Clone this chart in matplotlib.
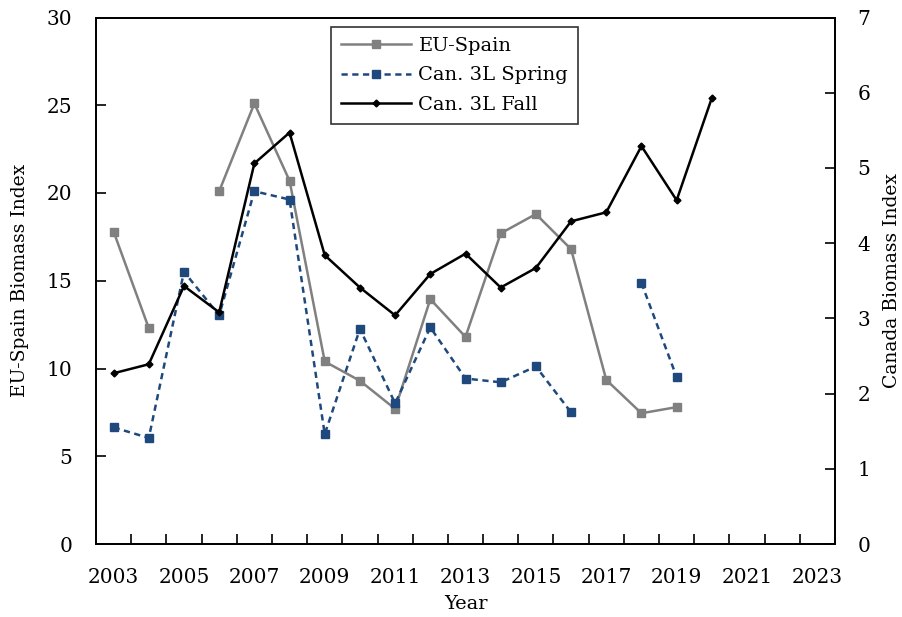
import numpy as np
import matplotlib.pyplot as plt
from matplotlib.ticker import MultipleLocator, FixedLocator

plt.rcParams['font.family'] = ['DejaVu Serif']
plt.rcParams['font.size'] = 14.5

years = np.arange(2003, 2024)
# EU-Spain survey index (left axis), NaN = no survey
eu_spain = [17.8, 12.3, np.nan, 20.1, 25.1, 20.7, 10.4, 9.3, 7.7, 13.95, 11.8,
            17.7, 18.8, 16.8, 9.35, 7.45, 7.8, np.nan, np.nan, np.nan, np.nan]
# Canadian 3L indices (right axis)
can_spring = [1.55, 1.41, 3.62, 3.04, 4.69, 4.58, 1.46, 2.86, 1.87, 2.88, 2.20,
              2.15, 2.36, 1.75, np.nan, 3.47, 2.22, np.nan, np.nan, np.nan, np.nan]
can_fall = [2.27, 2.39, 3.43, 3.08, 5.06, 5.47, 3.84, 3.41, 3.04, 3.59, 3.86,
            3.41, 3.67, 4.29, 4.41, 5.29, 4.57, 5.93, np.nan, np.nan, np.nan]

fig = plt.figure(figsize=(9.03, 6.17), dpi=100)
ax = fig.add_axes([96/903, 1-544/617, (835-96)/903, (544-17.5)/617])
ax2 = ax.twinx()

l1, = ax.plot(years, eu_spain, color='#808080', lw=1.8, marker='s', ms=5.5,
              label='EU-Spain')
l2, = ax2.plot(years, can_spring, color='#1f497d', lw=1.8, ls=(0, (2.5, 1.8)),
               marker='s', ms=5.5, label='Can. 3L Spring')
l3, = ax2.plot(years, can_fall, color='black', lw=1.8, marker='D', ms=3.5,
               label='Can. 3L Fall')

ax.set_xlim(2002.5, 2023.5)
ax.set_ylim(0, 30)
ax2.set_ylim(0, 7)
ax.yaxis.set_major_locator(MultipleLocator(5))
ax2.yaxis.set_major_locator(MultipleLocator(1))

# category axis: labels on every second year, tick marks between years
ax.set_xticks(years[::2])
ax.xaxis.set_minor_locator(FixedLocator(np.arange(2003.5, 2023, 1)))
ax.tick_params(axis='x', which='major', length=0, pad=17)
ax.tick_params(axis='x', which='minor', direction='in', length=7, width=1.2)
ax.tick_params(axis='y', direction='in', length=7, width=1.2, pad=17)
ax2.tick_params(axis='y', direction='in', length=7, width=1.2, pad=16)

for a in (ax, ax2):
    for s in a.spines.values():
        s.set_linewidth(1.3)

ax.set_xlabel('Year', labelpad=6, size=14)
ax.set_ylabel('EU-Spain Biomass Index', labelpad=13, size=13.5)
ax2.set_ylabel('Canada Biomass Index', labelpad=9, size=13.5)

leg = ax.legend(handles=[l1, l2, l3], loc='upper left',
                bbox_to_anchor=(331/903, 1-27/617), bbox_transform=fig.transFigure,
                borderaxespad=0, frameon=True, fancybox=False, edgecolor='black',
                handlelength=3.6, borderpad=0.5, labelspacing=0.6,
                handletextpad=0.4, prop={'size': 14})
leg.get_frame().set_linewidth(1.2)

fig.savefig('out.png', dpi=100)
